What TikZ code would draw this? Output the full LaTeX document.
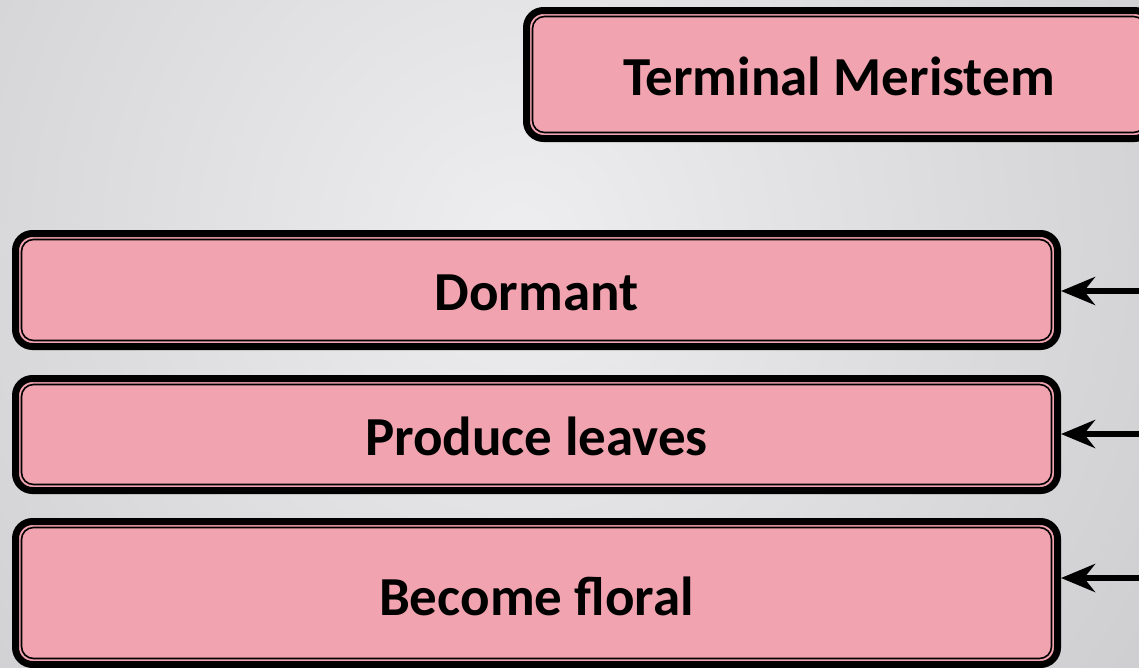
\documentclass[tikz,border=0pt]{standalone}
\usepackage{fontspec}
\setmainfont{Carlito}
\usetikzlibrary{arrows.meta}
\definecolor{boxpink}{HTML}{F1A4AF}
\definecolor{bgin}{HTML}{EEEEF0}
\definecolor{bgout}{HTML}{ABABAD}
\tikzset{
  stagebox/.style={draw=black, line width=7pt, fill=boxpink, rounded corners=17pt,
    minimum width=#1, inner sep=0pt, text height=40pt, text depth=0pt,
    font=\fontsize{55}{62}\selectfont\bfseries},
  innerline/.style={draw=black, line width=1.6pt, rounded corners=12pt},
  feed/.style={draw=black, line width=5.5pt, -{Stealth[length=34pt,width=28pt,inset=11pt]}},
}
\begin{document}
\begin{tikzpicture}[x=1pt,y=-1pt]
\useasboundingbox (0,0) rectangle (1139,667);
\clip (0,0) rectangle (1139,667);
% soft radial backdrop
\shade[inner color=bgin, outer color=bgout] (520,240) circle (1600);

% stage boxes
\node[stagebox=625pt, minimum height=128pt, text height=41pt] (tm) at (839,74.5) {Terminal Meristem};
\node[stagebox=1042pt, minimum height=113pt] (dormant) at (536.5,290) {Dormant};
\node[stagebox=1042pt, minimum height=112pt, text height=41pt] (leaves) at (536.5,434.5) {Produce leaves};
\node[stagebox=1042pt, minimum height=143pt, text height=44pt] (floral) at (536.5,593) {Become floral};

% inner rule of each double border
\foreach \b in {tm,dormant,leaves,floral}{
  \draw[innerline] ([shift={(9.5,9.5)}]\b.north west) rectangle ([shift={(-9.5,-9.5)}]\b.south east);
}

% incoming connectors from the right
\coordinate (in1) at (1150,291);
\coordinate (in2) at (1150,434);
\coordinate (in3) at (1150,578);
\draw[feed] (in1) -- (in1 -| dormant.east);
\draw[feed] (in2) -- (in2 -| leaves.east);
\draw[feed] (in3) -- (in3 -| floral.east);
\end{tikzpicture}
\end{document}
